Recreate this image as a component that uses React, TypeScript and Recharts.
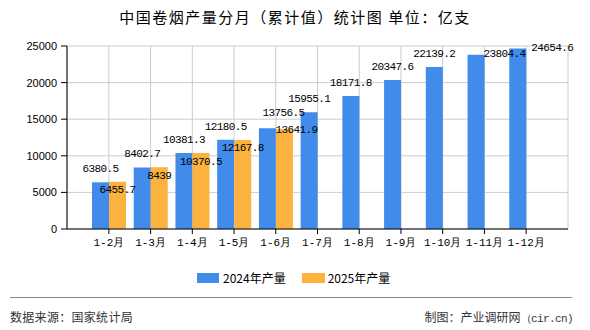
import { BarChart, Bar, XAxis, YAxis, CartesianGrid, LabelList } from 'recharts';

const months = ['1-2月', '1-3月', '1-4月', '1-5月', '1-6月', '1-7月', '1-8月', '1-9月', '1-10月', '1-11月', '1-12月'];
const output2024 = [6380.5, 8402.7, 10381.3, 12180.5, 13756.5, 15955.1, 18171.8, 20347.6, 22139.2, 23804.4, 24654.6];
const output2025 = [6455.7, 8439, 10370.5, 12167.8, 13641.9];
const yTicks = [0, 5000, 10000, 15000, 20000, 25000];

const BLUE = '#418BEA';
const ORANGE = '#FBB23F';
const MONO = "'Liberation Mono', 'DejaVu Sans Mono', monospace";
const CJK = "'Noto Sans CJK SC', 'Liberation Sans', sans-serif";

const data = months.map((m, i) => ({
  month: m,
  y2024: output2024[i],
  y2025: output2025[i] ?? null,
}));

// labels: 2024 above the bar, 2025 just inside the top; a few get nudged like the original
function makeLabel(series: number[], inside: boolean) {
  return (props: any) => {
    const vb = props.viewBox ?? props;
    const value = props.value;
    if (value == null) return null;
    const i = series.indexOf(value);
    const cx = vb.x + vb.width / 2;
    const top = vb.y;
    let tx = cx;
    let ty = inside ? top + 8.5 : top - 13;
    let anchor: 'middle' | 'start' = 'middle';
    if (!inside && i === 4) { tx = cx + 16; ty = top - 15; }
    if (!inside && i === 9) { tx = vb.x + vb.width - 1; ty = top - 1; anchor = 'start'; }
    if (!inside && i === 10) { tx = vb.x + vb.width + 5; ty = top - 1; anchor = 'start'; }
    if (inside && i === 4) { tx = cx + 12; ty = top + 1; }
    return (
      <text x={tx} y={ty} textAnchor={anchor} dominantBaseline="central"
        fontSize={11} letterSpacing={-0.6} fontFamily={MONO} fill="#000">
        {String(value)}
      </text>
    );
  };
}

export default function App() {
  return (
    <div style={{ position: 'absolute', left: 0, top: 0, width: 590, height: 330, background: '#fff', fontFamily: CJK }}>
      <div style={{ position: 'absolute', top: 6, left: 0, width: 590, textAlign: 'center', fontSize: 15, letterSpacing: 1.5, color: '#000', lineHeight: '22px' }}>
        中国卷烟产量分月（累计值）统计图 单位：亿支
      </div>

      <BarChart width={590} height={330} data={data} barSize={17} barGap={0}
        margin={{ top: 46, right: 22, bottom: 71, left: 0 }}>
        <CartesianGrid stroke="#cccccc" />
        <XAxis dataKey="month" padding={{ left: 21, right: 21 }} interval={0}
          axisLine={{ stroke: '#000' }} tickLine={{ stroke: '#000' }} tickSize={5} tickMargin={4}
          tick={{ fontSize: 11, fill: '#000', fontFamily: MONO }} />
        <YAxis domain={[0, 25000]} ticks={yTicks} interval={0} width={67}
          axisLine={{ stroke: '#000' }} tickLine={{ stroke: '#000' }} tickSize={6} tickMargin={4}
          tick={{ fontSize: 11, fill: '#000', fontFamily: "'Liberation Sans', Arial, sans-serif" }} />
        <YAxis yAxisId="edge" orientation="right" width={0} domain={[0, 1]} tick={false} tickLine={false}
          axisLine={{ stroke: '#cccccc' }} />
        <Bar dataKey="y2024" fill={BLUE} isAnimationActive={false}>
          <LabelList dataKey="y2024" content={makeLabel(output2024, false)} />
        </Bar>
        <Bar dataKey="y2025" fill={ORANGE} isAnimationActive={false}>
          <LabelList dataKey="y2025" content={makeLabel(output2025, true)} />
        </Bar>
      </BarChart>

      <div style={{ position: 'absolute', top: 270, left: 197, display: 'flex', alignItems: 'center', fontSize: 12, color: '#000', lineHeight: '16px' }}>
        <span style={{ display: 'inline-block', width: 22, height: 10, background: BLUE, marginRight: 4 }} />
        <span>2024年产量</span>
        <span style={{ display: 'inline-block', width: 23, height: 10, background: ORANGE, marginLeft: 16, marginRight: 3 }} />
        <span>2025年产量</span>
      </div>

      <div style={{ position: 'absolute', top: 297, left: 10, width: 562, height: 0, borderTop: '1px solid #888' }} />
      <div style={{ position: 'absolute', top: 308, left: 10, fontSize: 12, letterSpacing: 0.3, color: '#333', lineHeight: '18px' }}>
        数据来源：国家统计局
      </div>
      <div style={{ position: 'absolute', top: 308, right: 17, fontSize: 12, color: '#333', lineHeight: '18px', whiteSpace: 'nowrap' }}>
        制图：产业调研网<span style={{ fontFamily: MONO, fontSize: 11, letterSpacing: -0.6 }}>（cir.cn)</span>
      </div>
    </div>
  );
}
